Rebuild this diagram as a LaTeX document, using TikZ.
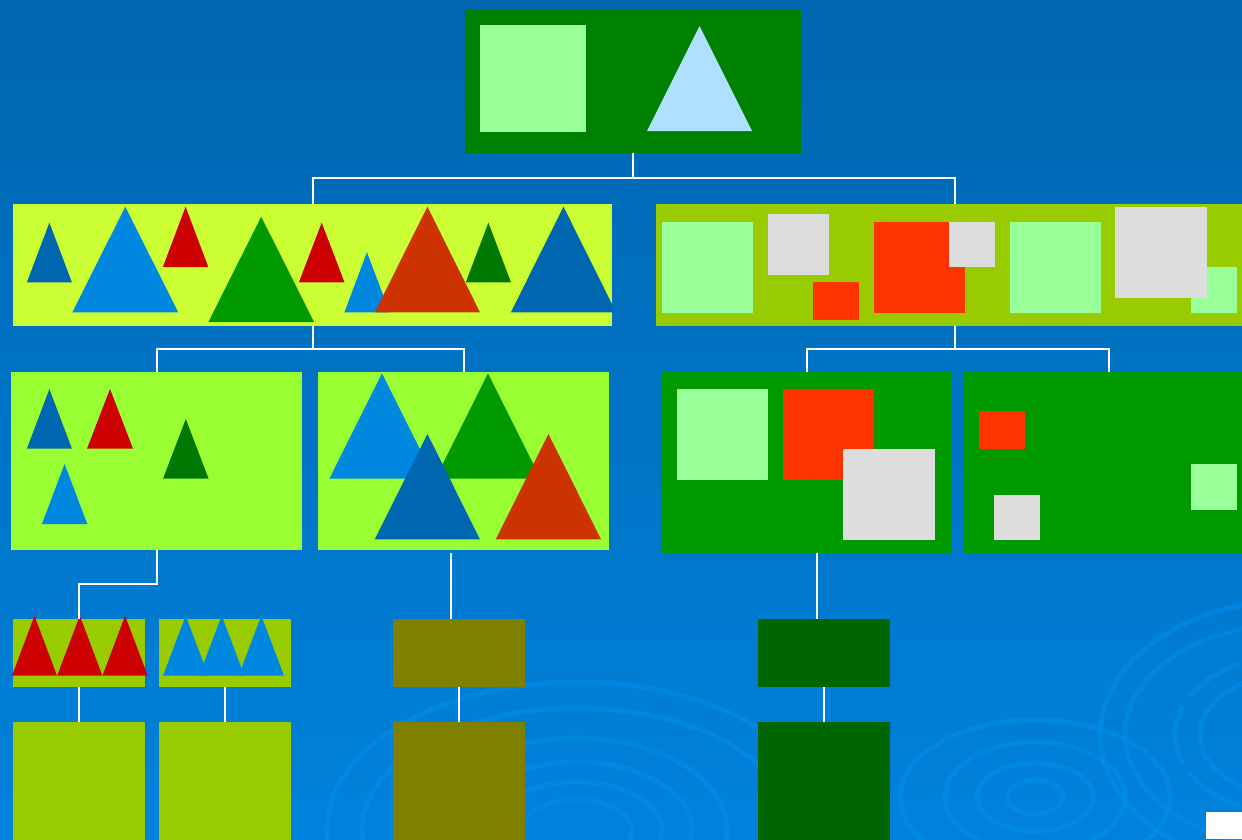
\documentclass[tikz,border=0pt]{standalone}
\usetikzlibrary{calc}
\definecolor{bgtop}{HTML}{0066AF}
\definecolor{bgbot}{HTML}{0082DC}
\definecolor{ripple}{HTML}{0090EE}
\definecolor{topgreen}{HTML}{008000}
\definecolor{lgreen}{HTML}{99FF99}
\definecolor{lblue}{HTML}{B0E0FF}
\definecolor{lime}{HTML}{CCFF33}
\definecolor{olivegreen}{HTML}{99CC00}
\definecolor{dblue}{HTML}{0066B0}
\definecolor{mblue}{HTML}{0088E0}
\definecolor{tred}{HTML}{CC0000}
\definecolor{tgreen}{HTML}{009900}
\definecolor{orred}{HTML}{CC3300}
\definecolor{dgreen}{HTML}{007700}
\definecolor{greyb}{HTML}{DDDDDD}
\definecolor{bred}{HTML}{FF3300}
\definecolor{yellowgreen}{HTML}{99FF33}
\definecolor{olive}{HTML}{808000}
\definecolor{forest}{HTML}{006600}
\newcommand{\mytri}[5]{\fill[#1] (#2,#5) -- (#3,#4) -- ({2*#3-#2},#5) -- cycle;}
\tikzset{
  box/.style={draw=none, inner sep=0pt, outer sep=0pt, anchor=north west},
  conn/.style={draw=white, line width=2pt},
}
\begin{document}
\begin{tikzpicture}[x=1pt,y=-1pt]
\useasboundingbox (0,0) rectangle (1242,839);
\clip (0,0) rectangle (1242,839);
\shade[top color=bgtop, bottom color=bgbot] (0,0) rectangle (1242,839);
% ripples
\begin{scope}[draw=ripple, line width=5pt, opacity=0.5]
  \draw (577,830) ellipse [x radius=250, y radius=148];
  \draw (577,830) ellipse [x radius=215, y radius=122];
  \draw (577,830) ellipse [x radius=150, y radius=92];
  \draw (577,830) ellipse [x radius=115, y radius=68];
  \draw (577,830) ellipse [x radius=85, y radius=48];
  \draw (577,830) ellipse [x radius=55, y radius=30];
  \draw (1035,797) ellipse [x radius=135, y radius=77];
  \draw (1035,797) ellipse [x radius=90, y radius=55];
  \draw (1035,797) ellipse [x radius=58, y radius=34];
  \draw (1035,797) ellipse [x radius=28, y radius=17];
  \draw (1295,735) ellipse [x radius=195, y radius=135];
  \draw (1295,735) ellipse [x radius=170, y radius=112];
  \draw[dash pattern=on 60pt off 12pt] (1295,735) ellipse [x radius=120, y radius=80];
  \draw (1295,735) ellipse [x radius=95, y radius=62];
\end{scope}
% ---------- nodes ----------
\node[box, fill=topgreen, minimum width=336pt, minimum height=143pt] (top) at (465,10) {};
\node[box, fill=lime, minimum width=599pt, minimum height=122pt] (l1a) at (13,204) {};
\node[box, fill=olivegreen, minimum width=598pt, minimum height=122pt] (l1b) at (656,204) {};
\node[box, fill=yellowgreen, minimum width=291pt, minimum height=178pt] (A) at (11,372) {};
\node[box, fill=yellowgreen, minimum width=291pt, minimum height=178pt] (B) at (318,372) {};
\node[box, fill=tgreen, minimum width=291pt, minimum height=181pt] (C) at (661,372) {};
\node[box, fill=tgreen, minimum width=291pt, minimum height=181pt] (D) at (963,372) {};
\node[box, fill=olivegreen, minimum width=132pt, minimum height=68pt] (E) at (13,619) {};
\node[box, fill=olivegreen, minimum width=132pt, minimum height=68pt] (F) at (159,619) {};
\node[box, fill=olive, minimum width=132pt, minimum height=68pt] (G) at (393,619) {};
\node[box, fill=forest, minimum width=132pt, minimum height=68pt] (H) at (758,619) {};
\node[box, fill=olivegreen, minimum width=132pt, minimum height=140pt] (I) at (13,722) {};
\node[box, fill=olivegreen, minimum width=132pt, minimum height=140pt] (J) at (159,722) {};
\node[box, fill=olive, minimum width=132pt, minimum height=140pt] (K) at (393,722) {};
\node[box, fill=forest, minimum width=132pt, minimum height=140pt] (L) at (758,722) {};
% ---------- contents: top ----------
\fill[lgreen] (480,25) rectangle (586,132);
\mytri{lblue}{647}{699.5}{26}{131}
% ---------- level 1 left ----------
\begin{scope}
  \clip (13,204) rectangle (612,326);
  \mytri{dblue}{26.9}{49.4}{222.7}{282.3}
  \mytri{mblue}{72.4}{125.3}{206.7}{312.3}
  \mytri{tred}{162.9}{185.6}{206.7}{267}
  \mytri{tgreen}{208.4}{261.2}{216.7}{322}
  \mytri{tred}{298.9}{321.7}{222.7}{282.3}
  \mytri{mblue}{344.4}{367}{252.3}{312.3}
  \mytri{orred}{374.8}{427.4}{206.7}{312.3}
  \mytri{dgreen}{465.8}{488.4}{222.7}{282.3}
  \mytri{dblue}{510.9}{563.5}{206.7}{312.3}
\end{scope}
% ---------- level 1 right ----------
\fill[lgreen] (662,222) rectangle (753,313);
\fill[greyb] (768,214) rectangle (829,275);
\fill[bred] (813,282) rectangle (859,320);
\fill[bred] (874,222) rectangle (965,313);
\fill[greyb] (949,222) rectangle (995,267);
\fill[lgreen] (1010,222) rectangle (1101,313);
\fill[lgreen] (1191,267) rectangle (1237,313);
\fill[greyb] (1115,207) rectangle (1207,298);
% ---------- level 2 ----------
\mytri{dblue}{26.9}{49.4}{389}{448.7}
\mytri{tred}{87}{110}{389}{448.7}
\mytri{dgreen}{163}{185.8}{419}{478.7}
\mytri{mblue}{41.9}{64.6}{464}{524}
\mytri{mblue}{329.4}{382}{373.3}{478.7}
\mytri{tgreen}{435.4}{488}{373.3}{478.7}
\mytri{dblue}{374.8}{427.4}{434}{539.3}
\mytri{orred}{495.8}{548.4}{434}{539.3}
\fill[lgreen] (677,389) rectangle (768,480);
\fill[bred] (783,389) rectangle (874,480);
\fill[greyb] (843,449) rectangle (935,540);
\fill[bred] (979,411) rectangle (1025,449);
\fill[greyb] (994,495) rectangle (1040,540);
\fill[lgreen] (1191,464) rectangle (1237,510);
% ---------- level 3 ----------
\mytri{tred}{12}{34.5}{615.7}{675.7}
\mytri{tred}{57.2}{79.8}{615.7}{675.7}
\mytri{tred}{102.5}{125.1}{615.7}{675.7}
\mytri{mblue}{163}{185.7}{615.7}{675.7}
\mytri{mblue}{199}{221.7}{615.7}{675.7}
\mytri{mblue}{238.6}{261.3}{615.7}{675.7}
% ---------- connectors ----------
\coordinate (j0) at ($(top.south)+(0,25)$);
\draw[conn] (top.south) -- (j0);
\draw[conn] (l1a.north) |- (j0) -| (l1b.north);
\coordinate (j1) at ($(l1a.south)+(0,23)$);
\draw[conn] (l1a.south) -- (j1);
\draw[conn] (A.north) |- (j1) -| (B.north);
\coordinate (j2) at ($(l1b.south)+(0,23)$);
\draw[conn] (l1b.south) -- (j2);
\draw[conn] (C.north) |- (j2) -| (D.north);
\coordinate (j3) at ($(A.south)+(0,34)$);
\draw[conn] (A.south) -- (j3) -| (E.north);
\draw[conn] ([xshift=-12.5pt,yshift=-3pt]B.south) -- ([xshift=-8pt]G.north);
\draw[conn] ([xshift=10.5pt]C.south) -- ([xshift=-7pt]H.north);
\draw[conn] (E.south) -- (I.north);
\draw[conn] (F.south) -- (J.north);
\draw[conn] (G.south) -- (K.north);
\draw[conn] (H.south) -- (L.north);
% logo corner
\fill[white] (1206,812) rectangle (1242,839);
\end{tikzpicture}
\end{document}
